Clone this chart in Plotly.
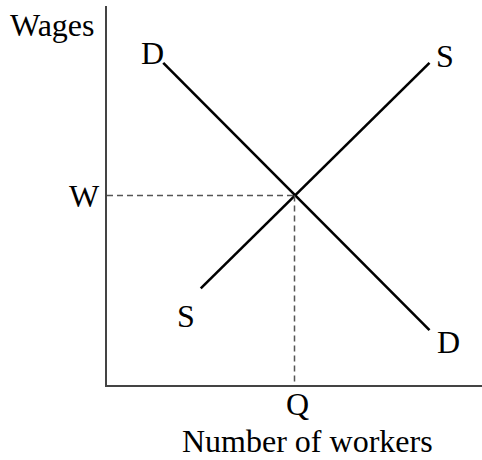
import plotly.graph_objects as go

# Data (arbitrary economic units)
demand_x = [1.5, 8.6]
demand_y = [8.5, 1.45]
supply_x = [2.5, 8.6]
supply_y = [2.55, 8.5]
eq_q = 5.0
eq_w = 5.0
x_title = "Number of workers"
y_title = "Wages"

FONT = dict(family="Liberation Serif, Times New Roman, serif", size=32, color="black")

fig = go.Figure()
fig.add_trace(go.Scatter(x=demand_x, y=demand_y, mode="lines",
                         line=dict(color="black", width=2.6), hoverinfo="skip"))
fig.add_trace(go.Scatter(x=supply_x, y=supply_y, mode="lines",
                         line=dict(color="black", width=2.6), hoverinfo="skip"))
fig.add_trace(go.Scatter(x=[0, eq_q], y=[eq_w, eq_w], mode="lines",
                         line=dict(color="#555555", width=1.5, dash="6px,4px"), hoverinfo="skip"))
fig.add_trace(go.Scatter(x=[eq_q, eq_q], y=[eq_w, 0], mode="lines",
                         line=dict(color="#555555", width=1.5, dash="6px,4px"), hoverinfo="skip"))

ann = []
def label(text, x, y, xref="x", yref="y"):
    ann.append(dict(text=text, x=x, y=y, xref=xref, yref=yref, showarrow=False,
                    font=FONT, xanchor="center", yanchor="middle"))

# plot area: x domain 107..482 px (375 px), y domain 6..385 px (379 px)
def px(xp):
    return (xp - 107) / 375.0
def py(yp):
    return (385 - yp) / 379.0

label("D", 1.2, 8.75)
label("S", 9.01, 8.68)
label("S", 2.11, 1.81)
label("D", 9.11, 1.13)
label("W", px(84), py(196), "paper", "paper")
label("Q", px(297), py(404), "paper", "paper")
label(x_title, px(307.5), py(441), "paper", "paper")
label(y_title, px(52.5), py(25), "paper", "paper")

fig.update_layout(
    width=482, height=460,
    margin=dict(l=107, r=0, t=6, b=75),
    paper_bgcolor="white", plot_bgcolor="white",
    showlegend=False,
    annotations=ann,
    xaxis=dict(range=[0, 10], showgrid=False, zeroline=False, showticklabels=False,
               ticks="", showline=True, linecolor="#444444", linewidth=2, fixedrange=True),
    yaxis=dict(range=[0, 10], showgrid=False, zeroline=False, showticklabels=False,
               ticks="", showline=True, linecolor="#444444", linewidth=2, fixedrange=True),
)

fig.write_html("out.html", config={"displayModeBar": False},
               post_script="document.body.style.margin='0';document.body.style.overflow='hidden';")
